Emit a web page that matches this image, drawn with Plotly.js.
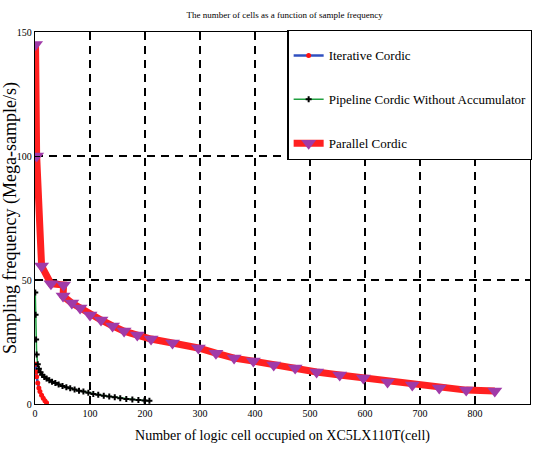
<!DOCTYPE html>
<html><head><meta charset="utf-8">
<script src="https://cdn.plot.ly/plotly-3.0.1.min.js"></script>
<style>html,body{margin:0;padding:0;background:#fff}#c{width:537px;height:459px}</style>
</head><body><div id="c"></div>
<script>
const iterX = [1, 2, 3, 5, 7, 9, 12, 15, 18, 21];
const iterY = [16, 13, 11, 8.5, 6.5, 5, 3.5, 2.3, 1.3, 0.5];

const pipX = [0.5, 1, 2, 3, 5, 7, 10, 13, 17, 21, 26, 31, 37, 43, 50, 57, 64, 72, 80, 88, 97, 106, 115, 125, 135, 145, 155, 166, 177, 188, 199, 208];
const pipY = [45, 36, 26, 20, 16, 14.2, 12.8, 11.8, 10.9, 10.3, 9.6, 9.0, 8.5, 7.9, 7.3, 6.8, 6.4, 5.8, 5.3, 5.0, 4.5, 4.0, 3.7, 3.3, 3.0, 2.7, 2.3, 2.0, 1.8, 1.6, 1.4, 1.3];

const parX = [1, 3, 12, 29, 52, 51, 67, 82, 100, 120, 141, 162, 186, 211, 250, 297, 329, 362, 397, 434, 473, 512, 554, 597, 641, 686, 735, 784, 836];
const parY = [145, 100, 55.6, 48.5, 48, 43.5, 40.7, 38.7, 35.9, 33.9, 31.5, 29.4, 27.8, 26.2, 24.6, 22.6, 20.5, 18.5, 17.3, 15.7, 14.5, 12.9, 11.7, 10.5, 8.9, 7.7, 6.5, 5.6, 5.2];

const names = ['Iterative Cordic', 'Pipeline Cordic Without Accumulator', 'Parallel Cordic'];
const xTicks = [0, 100, 200, 300, 400, 500, 600, 700, 800, 900];
const yTicks = [0, 50, 100, 150];

const traces = [
  {x: iterX, y: iterY, name: names[0], mode: 'lines+markers', legendgroup: 'a',
   line: {color: '#3050c0', width: 2.5}, marker: {color: '#ff1010', size: 5, symbol: 'circle'}},
  {x: pipX, y: pipY, name: names[1], mode: 'lines+markers', legendgroup: 'b',
   line: {color: '#20a040', width: 1.5}, marker: {color: '#000', size: 5, symbol: 'cross'}},
  {x: parX, y: parY, name: names[2], mode: 'lines+markers', legendgroup: 'c',
   line: {color: '#ff2020', width: 7}, marker: {color: '#a03aa8', size: 13, symbol: 'triangle-down'}}
];

const ser = 'Liberation Serif';
const layout = {
  width: 537, height: 459,
  font: {family: ser, color: '#000'},
  margin: {l: 35, r: 7, t: 32, b: 55, autoexpand: false},
  paper_bgcolor: '#fff', plot_bgcolor: '#fff',
  title: {text: 'The number of cells as a function of sample frequency', x: 0.53, xanchor: 'center', y: 0.975,
          font: {family: ser, size: 9, color: '#000'}},
  xaxis: {range: [0, 900], tickvals: xTicks, ticktext: xTicks.map(String),
          showgrid: true, gridcolor: '#000', griddash: '8px,6px', gridwidth: 1.3,
          zeroline: false, showline: true, linecolor: '#000', linewidth: 1.2, mirror: 'allticks',
          ticks: 'inside', ticklen: 5, tickcolor: '#000',
          tickfont: {family: ser, size: 10, color: '#000'},
          title: {text: 'Number of logic cell occupied on XC5LX110T(cell)', standoff: 12,
                  font: {family: ser, size: 14, color: '#000'}}},
  yaxis: {range: [0, 150], tickvals: yTicks, ticktext: yTicks.map(String),
          showgrid: true, gridcolor: '#000', griddash: '8px,6px', gridwidth: 1.3,
          zeroline: false, showline: true, linecolor: '#000', linewidth: 1.2, mirror: 'allticks',
          ticks: 'inside', ticklen: 5, tickcolor: '#000',
          tickfont: {family: ser, size: 10, color: '#000'},
          title: {text: 'Sampling frequency (Mega-sample/s)', standoff: 0,
                  font: {family: ser, size: 18, color: '#000'}}},
  legend: {x: 0.51, xanchor: 'left', y: 1.005, yanchor: 'top', bgcolor: '#fff',
           bordercolor: '#000', borderwidth: 1.2, tracegroupgap: 24,
           title: {text: ' ', font: {family: ser, size: 7}},
           font: {family: ser, size: 13, color: '#000'}, itemwidth: 30},
  showlegend: true
};
Plotly.newPlot('c', traces, layout, {displayModeBar: false, staticPlot: true});
</script></body></html>
